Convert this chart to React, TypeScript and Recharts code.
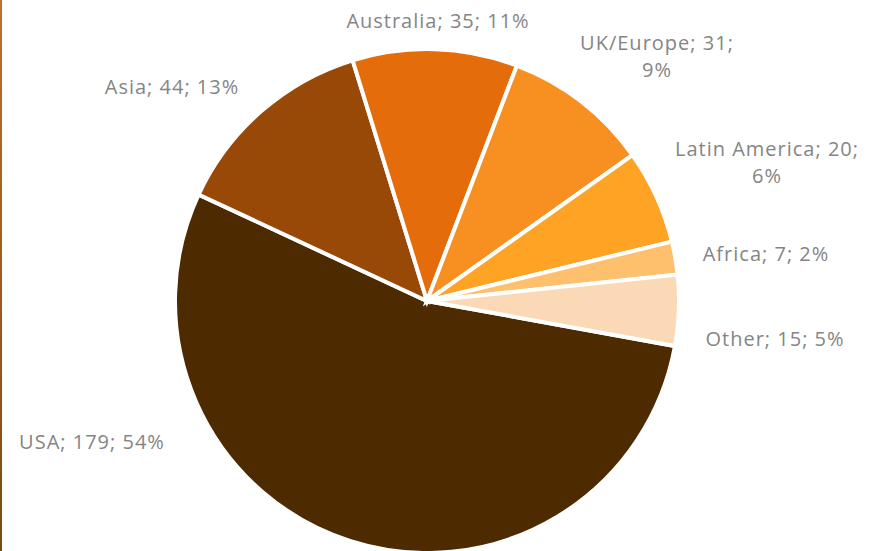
import React from 'react';
import { PieChart, Pie, Cell } from 'recharts';

const regions = ['USA', 'Asia', 'Australia', 'UK/Europe', 'Latin America', 'Africa', 'Other'];
const counts = [179, 44, 35, 31, 20, 7, 15];
const colors = ['#4E2A00', '#984807', '#E46C0A', '#F79020', '#FFA324', '#FFC06E', '#FCD9B6'];

// label centre offsets from the pie centre, and where the text wraps
const labelLayout: Record<string, { dx: number; dy: number; wrap?: boolean }> = {
  USA: { dx: -335, dy: 141 },
  Asia: { dx: -255, dy: -214 },
  Australia: { dx: 11, dy: -280 },
  'UK/Europe': { dx: 230, dy: -244, wrap: true },
  'Latin America': { dx: 340, dy: -138, wrap: true },
  Africa: { dx: 339, dy: -47 },
  Other: { dx: 348, dy: 38 },
};

const data = regions.map((name, i) => ({ name, value: counts[i] }));

const renderLabel = (props: any) => {
  const { cx, cy, name, value, percent } = props;
  const lay = labelLayout[name];
  const pct = Math.round(percent * 100) + '%';
  const x = cx + lay.dx;
  const y = cy + lay.dy;
  const common = {
    fill: '#858585',
    fontSize: 20,
    letterSpacing: 1,
    fontFamily: '"Open Sans", "Noto Sans", sans-serif',
    textAnchor: 'middle' as const,
  };
  if (lay.wrap) {
    return (
      <text x={x} y={y} {...common}>
        <tspan x={x} dy={-7}>{`${name}; ${value};`}</tspan>
        <tspan x={x} dy={27}>{pct}</tspan>
      </text>
    );
  }
  return (
    <text x={x} y={y} dy={7} {...common}>
      {`${name}; ${value}; ${pct}`}
    </text>
  );
};

export default function App() {
  return (
    <div style={{ position: 'absolute', left: 0, top: 0, width: 881, height: 551, background: '#fff', overflow: 'hidden' }}>
      <div
        style={{
          position: 'absolute',
          left: 0,
          top: 0,
          width: 2,
          height: 551,
          background: 'linear-gradient(#C0702A, #7A4A15)',
        }}
      />
      <PieChart width={881} height={551} margin={{ top: 0, right: 0, bottom: 0, left: 0 }}>
        <Pie
          data={data}
          dataKey="value"
          nameKey="name"
          cx={427}
          cy={301}
          outerRadius={252}
          startAngle={-10.3}
          endAngle={-370.3}
          stroke="#FFFFFF"
          strokeWidth={4}
          label={renderLabel}
          labelLine={false}
          isAnimationActive={false}
        >
          {data.map((d, i) => (
            <Cell key={d.name} fill={colors[i]} />
          ))}
        </Pie>
      </PieChart>
    </div>
  );
}
